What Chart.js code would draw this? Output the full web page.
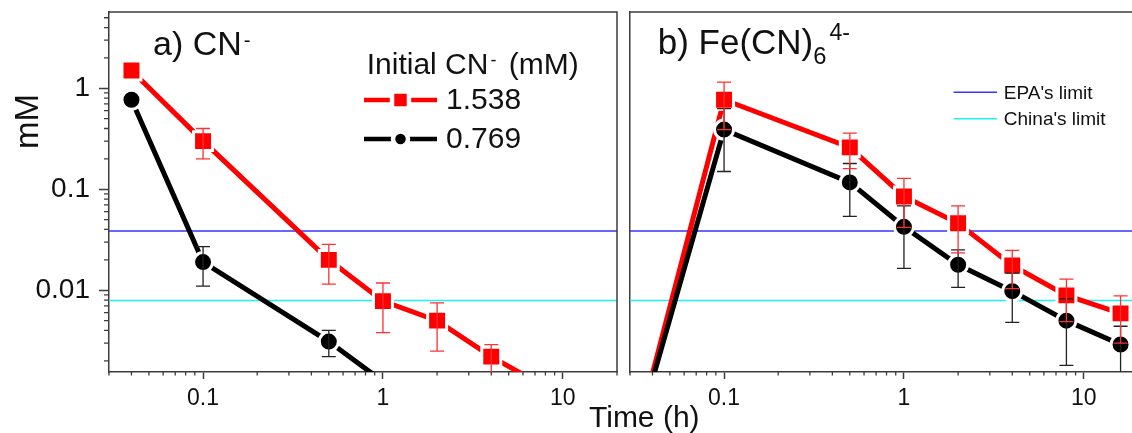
<!DOCTYPE html>
<html><head><meta charset="utf-8">
<script src="https://cdn.jsdelivr.net/npm/chart.js@4.4.1/dist/chart.umd.min.js"></script>
<style>
html,body{margin:0;padding:0;background:#fff;overflow:hidden;}
#wrap{position:relative;width:1132px;height:433px;overflow:hidden;background:#fff;}
#c1{position:absolute;left:0;top:0;}
#c2{position:absolute;left:620px;top:0;}
#xtitle{position:absolute;left:589px;top:402px;font-size:30px;font-family:'Liberation Sans',Arial,sans-serif;line-height:30px;color:#111;white-space:nowrap;}
</style></head><body>
<div id="wrap">
<canvas id="c1" width="625" height="433"></canvas>
<canvas id="c2" width="530" height="433"></canvas>
<div id="xtitle">Time (h)</div>
</div>
<script>
const FONT = "'Liberation Sans', Arial, sans-serif";

// ---------- data ----------
// panel a) CN-
const timesHighA = [0.04, 0.1, 0.5, 1, 2, 4, 8];
const cnHigh     = [1.5, 0.30, 0.020, 0.0078, 0.0050, 0.0022, 0.0011];
const cnHighErr  = [0, 0.10, 0.0085, 0.004, 0.0025, 0.0007, 0];
const timesLowA  = [0.04, 0.1, 0.5, 1];
const cnLow      = [0.77, 0.019, 0.0031, 0.00125];
const cnLowErr   = [0, 0.008, 0.0009, 0];
// panel b) Fe(CN)6 4-
const timesB     = [0.04, 0.1, 0.5, 1, 2, 4, 8, 16];
const feHigh     = [0.0015, 0.77, 0.26, 0.085, 0.046, 0.0176, 0.0089, 0.0059];
const feHighErr  = [0, 0.38, 0.10, 0.043, 0.0225, 0.0072, 0.004, 0.0029];
const feLow      = [0.0013, 0.39, 0.117, 0.0425, 0.0179, 0.0098, 0.0050, 0.0029];
const feLowErr   = [0, 0.24, 0.063, 0.026, 0.0072, 0.005, 0.0032, 0.0015];
// limits
const epaLimit   = 0.0386;
const chinaLimit = 0.0079;
const limitNames = ["EPA's limit", "China's limit"];
// series names
const seriesNames = ['1.538', '0.769'];
// axes
const xRange = [0.03, 20];
const yRange = [0.00155, 5.7];
const xTickValues = [0.1, 1, 10];
const xTickLabels = ['0.1', '1', '10'];
const yTickValues = [0.01, 0.1, 1];
const yTickLabels = ['0.01', '0.1', '1'];

// ---------- styles ----------
const RED = '#ff0000', RED_ERR = '#ff3030', BLACK = '#000000', BLACK_ERR = '#222222';
const BLUE = '#3535ff', CYAN = '#1ff2f2', AXIS = '#3c3c3c', TEXT = '#111111';

function logTicks(min, max) {
  const out = [];
  for (let e = -4; e <= 2; e++) for (let m = 1; m <= 9; m++) {
    const v = m * Math.pow(10, e);
    if (v >= min * 0.9999 && v <= max * 1.0001) out.push({ value: v, major: m === 1 });
  }
  return out;
}
function labelFor(v, vals, labs) {
  for (let i = 0; i < vals.length; i++) if (Math.abs(v / vals[i] - 1) < 1e-6) return labs[i];
  return '';
}
function pts(xs, ys) { return xs.map((x, i) => ({ x: x, y: ys[i] })); }
function noPad(s) { s.paddingTop = 0; s.paddingBottom = 0; s.paddingLeft = 0; s.paddingRight = 0; }

function drawRich(ctx, x, y, size, segs) {
  ctx.textBaseline = 'alphabetic'; ctx.textAlign = 'left'; ctx.fillStyle = TEXT;
  for (const s of segs) {
    const fs = (s.sup || s.sub) ? size * s.scale : size;
    ctx.font = fs + 'px ' + FONT;
    x += (s.pre || 0);
    const dy = s.sup ? -s.dy : (s.sub ? s.dy : 0);
    ctx.fillText(s.t, x, y + dy);
    x += ctx.measureText(s.t).width + (s.post || 0);
  }
}

const errorBarPlugin = {
  id: 'errbars',
  afterDatasetsDraw(chart) {
    const ctx = chart.ctx, a = chart.chartArea;
    const xs = chart.scales.x, ys = chart.scales.y;
    ctx.save();
    ctx.beginPath(); ctx.rect(a.left, a.top, a.right - a.left, a.bottom - a.top); ctx.clip();
    chart.data.datasets.forEach(ds => {
      if (!ds.errors) return;
      ctx.strokeStyle = ds.errColor; ctx.lineWidth = 1.3;
      ds.data.forEach((p, i) => {
        const e = ds.errors[i];
        if (!e) return;
        const px = xs.getPixelForValue(p.x);
        const yt = ys.getPixelForValue(p.y + e);
        const yb = (p.y - e) > 0 ? ys.getPixelForValue(p.y - e) : a.bottom + 20;
        ctx.beginPath();
        ctx.moveTo(px, yt); ctx.lineTo(px, yb);
        ctx.moveTo(px - 7, yt); ctx.lineTo(px + 7, yt);
        ctx.moveTo(px - 7, yb); ctx.lineTo(px + 7, yb);
        ctx.stroke();
      });
    });
    ctx.restore();
  }
};

const frameTicksPlugin = {
  id: 'frameTicks',
  afterDraw(chart, args, opts) {
    const ctx = chart.ctx, a = chart.chartArea;
    ctx.save();
    ctx.strokeStyle = AXIS; ctx.lineWidth = 1.5;
    ctx.beginPath();
    ctx.moveTo(a.left, a.top); ctx.lineTo(a.right, a.top); ctx.lineTo(a.right, a.bottom);
    ctx.stroke();
    ctx.lineWidth = 1.3;
    ctx.beginPath();
    chart.scales.x.ticks.forEach(t => {
      if (t.major) return;
      const px = chart.scales.x.getPixelForValue(t.value);
      ctx.moveTo(px, a.bottom); ctx.lineTo(px, a.bottom + 3.5);
    });
    if (opts.yMinor) {
      chart.scales.y.ticks.forEach(t => {
        if (t.major) return;
        const py = chart.scales.y.getPixelForValue(t.value);
        ctx.moveTo(a.left - 5, py); ctx.lineTo(a.left, py);
      });
    }
    ctx.stroke();
    ctx.restore();
  }
};

const panelAText = {
  id: 'panelAText',
  afterDraw(chart) {
    const ctx = chart.ctx;
    ctx.save();
    ctx.translate(38, 121.5); ctx.rotate(-Math.PI / 2);
    ctx.font = '33px ' + FONT; ctx.fillStyle = TEXT; ctx.textAlign = 'center'; ctx.textBaseline = 'alphabetic';
    ctx.fillText('mM', 0, 0);
    ctx.restore();
    ctx.save();
    drawRich(ctx, 153, 55, 34, [{ t: 'a) CN' }, { t: '-', sup: true, scale: 0.6, dy: 8, pre: 2 }]);
    drawRich(ctx, 366.7, 74, 30, [{ t: 'Initial CN' }, { t: '-', sup: true, scale: 0.6, dy: 8, pre: 2, post: 4 }, { t: ' (mM)' }]);
    const items = [
      { name: seriesNames[0], color: RED, style: 'rect', r: 12, y: 100 },
      { name: seriesNames[1], color: BLACK, style: 'circle', r: 7.5, y: 139 }
    ];
    items.forEach(it => {
      ctx.strokeStyle = it.color; ctx.lineWidth = 4.5;
      ctx.beginPath(); ctx.moveTo(364, it.y); ctx.lineTo(437, it.y); ctx.stroke();
      ctx.fillStyle = it.color; ctx.strokeStyle = '#ffffff';
      Chart.helpers.drawPoint(ctx, { pointStyle: it.style, radius: it.r, borderWidth: 3, rotation: 0 }, 400.5, it.y);
      ctx.fillStyle = TEXT; ctx.font = '30px ' + FONT; ctx.textAlign = 'left'; ctx.textBaseline = 'middle';
      ctx.fillText(it.name, 446, it.y + 1);
    });
    ctx.restore();
  }
};

const panelBText = {
  id: 'panelBText',
  afterDraw(chart) {
    const ctx = chart.ctx;
    ctx.save();
    drawRich(ctx, 37.7, 54.3, 35, [
      { t: 'b) Fe(CN)' },
      { t: '6', sub: true, scale: 0.68, dy: 10 },
      { t: '4-', sup: true, scale: 0.66, dy: 14, pre: 3 }
    ]);
    const items = [{ name: limitNames[0], color: BLUE, y: 92.3 }, { name: limitNames[1], color: CYAN, y: 118.8 }];
    items.forEach(it => {
      ctx.strokeStyle = it.color; ctx.lineWidth = 1.5;
      ctx.beginPath(); ctx.moveTo(333.6, it.y); ctx.lineTo(377, it.y); ctx.stroke();
      ctx.fillStyle = TEXT; ctx.font = '19px ' + FONT; ctx.textAlign = 'left'; ctx.textBaseline = 'middle';
      ctx.fillText(it.name, 383.8, it.y + 1);
    });
    ctx.restore();
  }
};

function seriesDS(label, xs, ys, errs, color, errColor, style, r) {
  return {
    label: label, data: pts(xs, ys), errors: errs, errColor: errColor,
    borderColor: color, backgroundColor: color, borderWidth: 5,
    pointStyle: style,
    pointRadius: c => (c.raw && c.raw.y < yRange[0]) ? 0 : r,
    pointBorderWidth: c => (c.raw && c.raw.y < yRange[0]) ? 0 : 3,
    pointBackgroundColor: color, pointBorderColor: '#ffffff', tension: 0, clip: 0
  };
}
function limitDS(label, val, color) {
  return {
    label: label, data: [{ x: xRange[0], y: val }, { x: xRange[1], y: val }],
    borderColor: color, borderWidth: 1.5, pointRadius: 0, clip: 0
  };
}

function xScale() {
  return {
    type: 'logarithmic', min: xRange[0], max: xRange[1],
    afterBuildTicks: s => { s.ticks = logTicks(xRange[0], xRange[1]); },
    afterFit: s => { s.height = 61; noPad(s); },
    ticks: { autoSkip: false, maxRotation: 0, minRotation: 0, padding: 6, color: TEXT,
      font: { family: FONT, size: 23 }, callback: v => labelFor(v, xTickValues, xTickLabels) },
    grid: { drawOnChartArea: false, drawTicks: true, tickLength: 7, tickWidth: 1.5,
      tickColor: c => (c.tick && c.tick.major) ? AXIS : 'rgba(0,0,0,0)' },
    border: { display: true, color: AXIS, width: 1.5 }
  };
}

const common = {
  responsive: false, animation: false, events: [],
  plugins: { legend: { display: false }, tooltip: { enabled: false } }
};

new Chart(document.getElementById('c1'), {
  type: 'line',
  data: { datasets: [
    seriesDS(seriesNames[1], timesLowA, cnLow, cnLowErr, BLACK, BLACK_ERR, 'circle', 9.5),
    seriesDS(seriesNames[0], timesHighA, cnHigh, cnHighErr, RED, RED_ERR, 'rect', 13.4),
    limitDS(limitNames[0], epaLimit, BLUE),
    limitDS(limitNames[1], chinaLimit, CYAN)
  ] },
  options: Object.assign({}, common, {
    layout: { autoPadding: false, padding: { top: 12, right: 8, left: 0, bottom: 0 } },
    plugins: Object.assign({}, common.plugins, { frameTicks: { yMinor: true } }),
    scales: {
      x: xScale(),
      y: {
        type: 'logarithmic', min: yRange[0], max: yRange[1],
        afterBuildTicks: s => { s.ticks = logTicks(yRange[0], yRange[1]); },
        afterFit: s => { s.width = 109; noPad(s); },
        ticks: { autoSkip: false, padding: 9, color: TEXT, font: { family: FONT, size: 28 },
          callback: v => labelFor(v, yTickValues, yTickLabels) },
        grid: { drawOnChartArea: false, drawTicks: true, tickLength: 10, tickWidth: 1.5,
          tickColor: c => (c.tick && c.tick.major) ? AXIS : 'rgba(0,0,0,0)' },
        border: { display: true, color: AXIS, width: 1.5 }
      }
    }
  }),
  plugins: [errorBarPlugin, frameTicksPlugin, panelAText]
});

new Chart(document.getElementById('c2'), {
  type: 'line',
  data: { datasets: [
    seriesDS(seriesNames[1], timesB, feLow, feLowErr, BLACK, BLACK_ERR, 'circle', 9.5),
    seriesDS(seriesNames[0], timesB, feHigh, feHighErr, RED, RED_ERR, 'rect', 13.4),
    limitDS(limitNames[0], epaLimit, BLUE),
    limitDS(limitNames[1], chinaLimit, CYAN)
  ] },
  options: Object.assign({}, common, {
    layout: { autoPadding: false, padding: { top: 12, right: 12, left: 0, bottom: 0 } },
    plugins: Object.assign({}, common.plugins, { frameTicks: { yMinor: false } }),
    scales: {
      x: xScale(),
      y: {
        type: 'logarithmic', min: yRange[0], max: yRange[1],
        afterBuildTicks: s => { s.ticks = logTicks(yRange[0], yRange[1]); },
        afterFit: s => { s.width = 10; noPad(s); },
        ticks: { display: false },
        grid: { drawOnChartArea: false, drawTicks: false },
        border: { display: true, color: AXIS, width: 1.5 }
      }
    }
  }),
  plugins: [errorBarPlugin, frameTicksPlugin, panelBText]
});
</script>
</body></html>
